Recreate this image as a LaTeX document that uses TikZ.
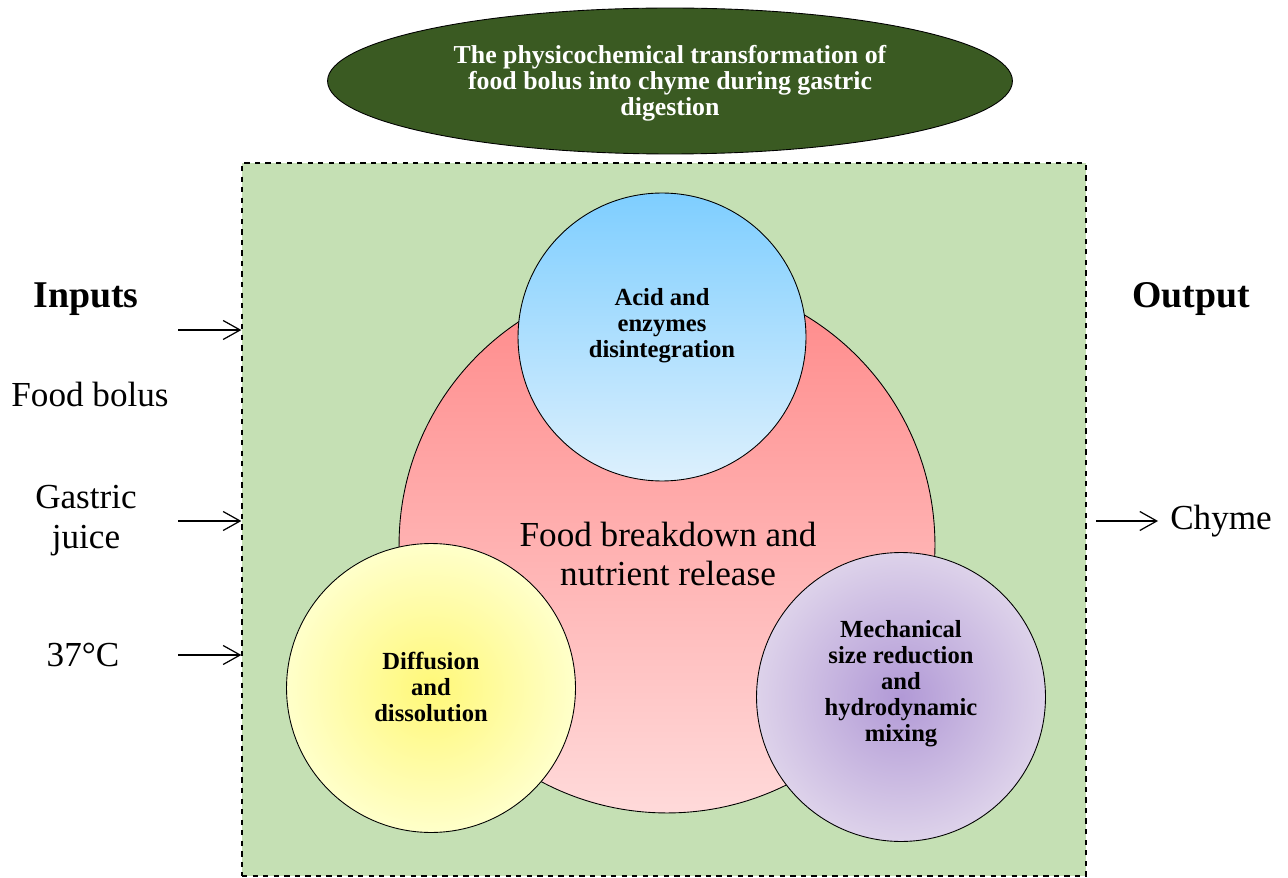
\documentclass[tikz,border=0pt]{standalone}
\usepackage{fontspec}
\setmainfont{Liberation Serif}
\usetikzlibrary{shapes.geometric,arrows.meta}
\definecolor{titlegreen}{HTML}{3A5A22}
\definecolor{boxgreen}{HTML}{C5E0B4}
\definecolor{redtop}{HTML}{FF8888}
\definecolor{redbot}{HTML}{FFDADA}
\definecolor{bluetop}{HTML}{7ECEFF}
\definecolor{bluebot}{HTML}{DDF0FD}
\definecolor{yelin}{HTML}{FFF878}
\definecolor{yelout}{HTML}{FFFFCA}
\definecolor{purin}{HTML}{B199D6}
\definecolor{purout}{HTML}{DDD2EA}
\pgfdeclareverticalshading{redshade}{100bp}{color(0bp)=(redbot); color(25bp)=(redbot); color(75bp)=(redtop); color(100bp)=(redtop)}
\pgfdeclareverticalshading{blueshade}{100bp}{color(0bp)=(bluebot); color(25bp)=(bluebot); color(75bp)=(bluetop); color(100bp)=(bluetop)}
\pgfdeclareradialshading{yelshade}{\pgfpointorigin}{color(0bp)=(yelin); color(25bp)=(yelout); color(50bp)=(yelout)}
\pgfdeclareradialshading{purshade}{\pgfpointorigin}{color(0bp)=(purin); color(25bp)=(purout); color(50bp)=(purout)}
\tikzset{
  titleell/.style={ellipse, draw=black, line width=0.5pt, fill=titlegreen,
    minimum width=13.7cm, minimum height=2.92cm, inner sep=0pt},
  titletext/.style={text=white, align=center, font=\bfseries\fontsize{14.7}{14.8}\selectfont},
  greenbox/.style={rectangle, draw=black, dashed, line width=0.8pt, fill=boxgreen,
    minimum width=16.88cm, minimum height=14.26cm, inner sep=0pt},
  bigcirc/.style={circle, draw=black, line width=0.5pt, inner sep=0pt},
  circlbl/.style={align=center, font=\bfseries\fontsize{14}{14.8}\selectfont},
  plainlbl/.style={align=center, font=\fontsize{20}{22.7}\selectfont},
  headlbl/.style={font=\bfseries\fontsize{21.5}{24}\selectfont},
  flowarrow/.style={-{Straight Barb[length=0.34cm,width=0.38cm]}, line width=0.7pt}
}
\begin{document}
\begin{tikzpicture}[x=0.02cm,y=-0.02cm]
\path[use as bounding box] (0,0) rectangle (1288,878);
% title
\node[titleell] (title) at (670,81) {};
\node[titletext] (titletxt) at (670,83) {The physicochemical transformation of\\food bolus into chyme during gastric\\digestion};
% green box
\node[greenbox] (box) at (664,519.5) {};
% circles
\node[bigcirc, shade, shading=redshade, minimum size=10.72cm] (red) at (667,545) {};
\node[bigcirc, shade, shading=blueshade, minimum size=5.76cm] (blue) at (662,337) {};
\node[bigcirc, shade, shading=yelshade, minimum size=5.78cm] (yel) at (431,688) {};
\node[bigcirc, shade, shading=purshade, minimum size=5.78cm] (pur) at (901,697) {};
% circle labels
\node[plainlbl] (redtxt) at (668,554) {Food breakdown and\\nutrient release};
\node[circlbl] (bluetxt) at (662,326) {Acid and\\enzymes\\disintegration};
\node[circlbl] (yeltxt) at (431,687) {Diffusion\\and\\dissolution};
\node[circlbl] (purtxt) at (901,684) {Mechanical\\size reduction\\and\\hydrodynamic\\mixing};
% side texts
\node[headlbl] (inputs) at (86,299) {Inputs};
\node[headlbl] (output) at (1191,299) {Output};
\node[plainlbl] (bolus) at (90,394) {Food bolus};
\node[plainlbl] (juice) at (86,521) {Gastric\\juice};
\node[plainlbl] (temp) at (83,655) {37°C};
\node[plainlbl] (chyme) at (1221,521) {Chyme};
% arrows
\coordinate (in1) at (178,330);
\coordinate (in2) at (178,521);
\coordinate (in3) at (178,655);
\coordinate (out1) at (1096,521);
\draw[flowarrow] (in1) -- (in1 -| box.west);
\draw[flowarrow] (in2) -- (in2 -| box.west);
\draw[flowarrow] (in3) -- (in3 -| box.west);
\draw[flowarrow, shorten >=0.12cm] (out1) -- (chyme.west);
\end{tikzpicture}
\end{document}
